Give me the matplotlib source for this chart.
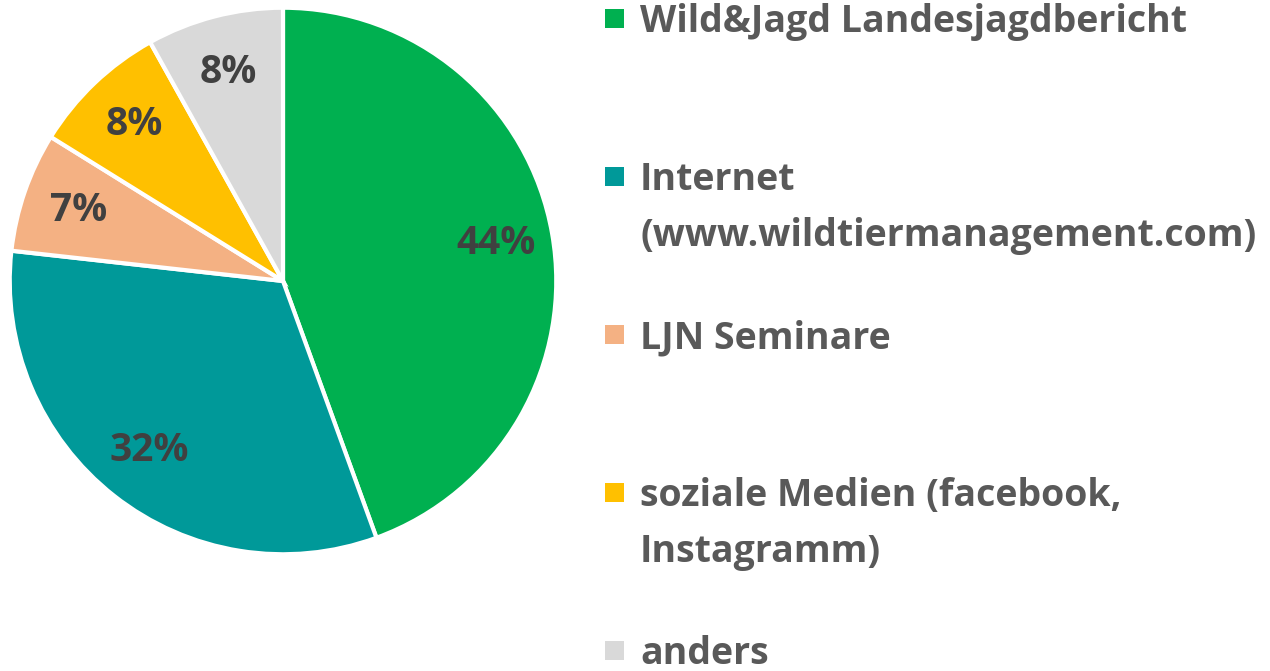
import matplotlib
matplotlib.use("Agg")
import matplotlib.pyplot as plt
from matplotlib.patches import Rectangle

# Data
labels = [
    "Wild&Jagd Landesjagdbericht",
    "Internet\n(www.wildtiermanagement.com)",
    "LJN Seminare",
    "soziale Medien (facebook,\nInstagramm)",
    "anders",
]
shares = [44, 32, 7, 8, 8]
colors = ["#00B050", "#009999", "#F4B183", "#FFC000", "#D9D9D9"]

W, H = 1270, 671
FONT = "Open Sans"

fig = plt.figure(figsize=(W / 100, H / 100), dpi=100)

# pie axes: centre (283, 281) px, radius ~273 px
cx, cy, r = 283, 281, 276
ax = fig.add_axes([(cx - r) / W, (H - cy - r) / H, 2 * r / W, 2 * r / H])
wedges, _, autotexts = ax.pie(
    shares,
    colors=colors,
    startangle=90,
    counterclock=False,
    autopct=lambda p: f"{p:.0f}%",
    pctdistance=0.79,
    wedgeprops=dict(edgecolor="white", linewidth=3),
    textprops=dict(fontsize=28, fontweight="bold", color="#404040", family=FONT),
)
ax.set_aspect("equal")
ax.set_xlim(-1.01, 1.01)
ax.set_ylim(-1.01, 1.01)

# legend drawn by hand (Excel-style even spacing)
x_box, x_text = 605, 640
entry_step, line_step = 158, 56
first_baseline = 32
for i, (lab, col) in enumerate(zip(labels, colors)):
    base = first_baseline + i * entry_step
    fig.patches.append(Rectangle(((x_box) / W, (H - base + 4) / H), 19 / W, 19 / H,
                                 transform=fig.transFigure, facecolor=col,
                                 edgecolor="none"))
    for j, line in enumerate(lab.split("\n")):
        fig.text(x_text / W, (H - base - j * line_step) / H, line,
                 fontsize=27, fontweight="bold", color="#595959", family=FONT,
                 ha="left", va="baseline")

fig.savefig("out.png", dpi=100)
